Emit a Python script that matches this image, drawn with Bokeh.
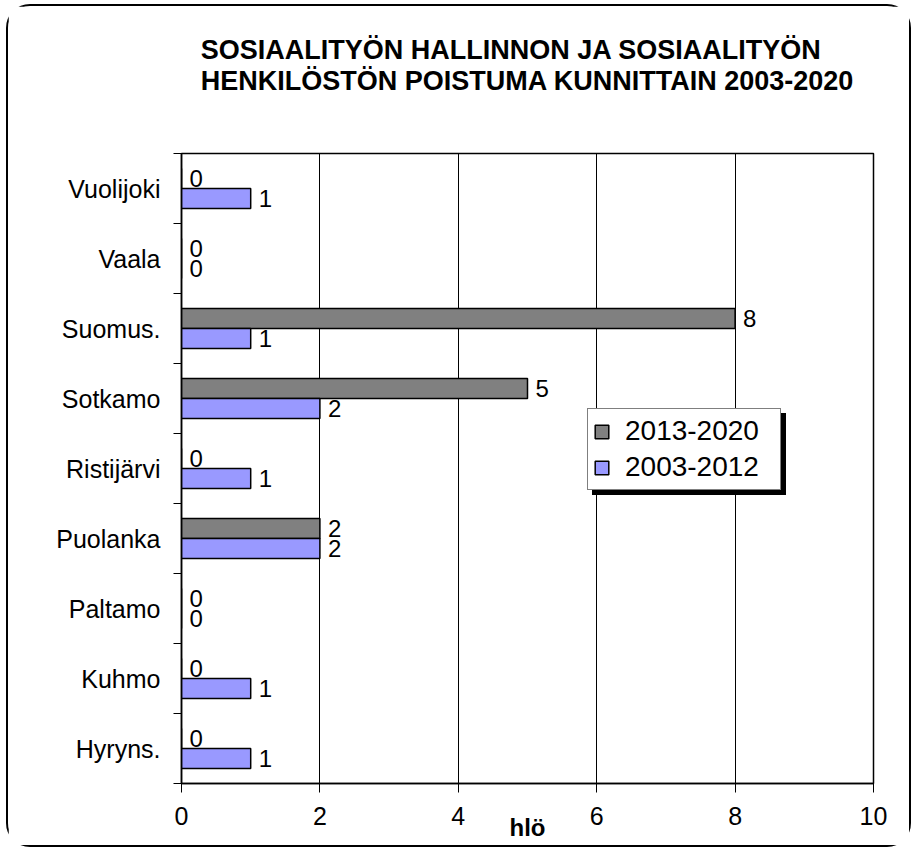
import numpy as np
from bokeh.plotting import figure
from bokeh.models import (Range1d, FixedTicker, Legend, LegendItem, Title,
                          ColumnDataSource)
from bokeh.core.properties import value
from bokeh.embed import file_html
from bokeh.resources import INLINE

# ---- data -------------------------------------------------------------
categories = ["Hyryns.", "Kuhmo", "Paltamo", "Puolanka", "Ristijärvi",
              "Sotkamo", "Suomus.", "Vaala", "Vuolijoki"]
series_2013_2020 = [0, 0, 0, 2, 0, 5, 8, 0, 0]
series_2003_2012 = [1, 1, 0, 2, 1, 2, 1, 0, 1]
legend_labels = ["2013-2020", "2003-2012"]
x_ticks = [0, 2, 4, 6, 8, 10]
title_lines = ["SOSIAALITYÖN HALLINNON JA SOSIAALITYÖN",
               "HENKILÖSTÖN POISTUMA KUNNITTAIN 2003-2020"]
x_axis_label = "hlö"

FONT = "Liberation Sans"
n = len(categories)
centers = np.arange(n) + 0.5
bar_h = 0.285
shift = 0.143

src = ColumnDataSource(dict(
    y_new=centers + shift,
    y_old=centers - shift,
    new=series_2013_2020,
    old=series_2003_2012,
    lab_new=[str(v) for v in series_2013_2020],
    lab_old=[str(v) for v in series_2003_2012],
))

p = figure(width=905, height=843, output_backend="svg", toolbar_location=None,
           x_range=Range1d(0, 10), y_range=Range1d(0, n),
           min_border_left=173, min_border_right=40,
           min_border_top=147, min_border_bottom=66)
p.styles = {"border": "2px solid black", "border-radius": "24px",
            "margin-left": "6px", "margin-top": "4px"}
p.background_fill_color = "white"
p.border_fill_color = "white"
p.outline_line_color = "black"
p.outline_line_width = 1.5

# x axis (bottom)
bottom_axis = p.below[0]
bottom_axis.ticker = FixedTicker(ticks=x_ticks)
p.xgrid.ticker = FixedTicker(ticks=x_ticks)
p.xgrid.grid_line_color = "black"
p.xgrid.grid_line_width = 1
p.ygrid.visible = False
bottom_axis.axis_line_color = "black"
bottom_axis.axis_line_width = 1.5
bottom_axis.major_tick_in = 0
bottom_axis.major_tick_out = 9
bottom_axis.major_tick_line_color = "black"
bottom_axis.minor_tick_line_color = None
bottom_axis.major_label_text_font = FONT
bottom_axis.major_label_text_font_size = "25px"
bottom_axis.major_label_text_color = "black"
bottom_axis.major_label_standoff = 14
bottom_axis.axis_label = x_axis_label
bottom_axis.axis_label_text_font = FONT
bottom_axis.axis_label_text_font_size = "24px"
bottom_axis.axis_label_text_font_style = "bold"
bottom_axis.axis_label_text_color = "black"
bottom_axis.axis_label_standoff = -14

# title (trailing empty line keeps a gap between title and frame)
p.title = Title(text="\n".join(title_lines) + "\n", align="center",
                text_font=FONT, text_font_size="27px", text_font_style="bold",
                text_color="black", standoff=52, text_line_height=1.05)

# y axis: labels at category centres, tick marks at category boundaries
p.yaxis.ticker = FixedTicker(ticks=[float(c) for c in centers],
                             minor_ticks=list(range(n + 1)))
p.yaxis.major_label_overrides = {float(c): cat for c, cat in zip(centers, categories)}
p.yaxis.major_tick_line_color = None
p.yaxis.major_tick_in = 0
p.yaxis.major_tick_out = 0
p.yaxis.minor_tick_in = 0
p.yaxis.minor_tick_out = 8
p.yaxis.minor_tick_line_color = "black"
p.yaxis.axis_line_color = "black"
p.yaxis.axis_line_width = 1.5
p.yaxis.major_label_text_font = FONT
p.yaxis.major_label_text_font_size = "25px"
p.yaxis.major_label_text_color = "black"
p.yaxis.major_label_standoff = 13

# bars
r_new = p.hbar(y="y_new", left=0, right="new", height=bar_h, source=src,
               fill_color="#808080", line_color="black", line_width=1.5)
r_old = p.hbar(y="y_old", left=0, right="old", height=bar_h, source=src,
               fill_color="#9999FF", line_color="black", line_width=1.5)

# value labels
p.text(x="new", y="y_new", text="lab_new", source=src, x_offset=8,
       text_baseline="middle", text_align="left", text_font=value(FONT),
       text_font_size="24px", text_color="black")
p.text(x="old", y="y_old", text="lab_old", source=src, x_offset=8,
       text_baseline="middle", text_align="left", text_font=value(FONT),
       text_font_size="24px", text_color="black")

legend_kw = dict(label_text_font=FONT, label_text_font_size="28px",
                 glyph_width=17, glyph_height=17, label_standoff=15,
                 label_width=150, label_height=34, padding=5, spacing=2,
                 margin=0, border_line_color="black", border_line_width=1.5)

# drop shadow: same-size box with empty labels, offset by 5px
shadow = Legend(items=[LegendItem(label="", renderers=[r_new]),
                       LegendItem(label="", renderers=[r_old])],
                location=(411, 288), background_fill_color="black",
                background_fill_alpha=1.0, **legend_kw)
legend = Legend(items=[LegendItem(label=legend_labels[0], renderers=[r_new]),
                       LegendItem(label=legend_labels[1], renderers=[r_old])],
                location=(406, 293), background_fill_color="white",
                background_fill_alpha=1.0, label_text_color="black", **legend_kw)
p.add_layout(shadow, "center")
p.add_layout(legend, "center")

open("out.html", "w").write(file_html(p, INLINE))
